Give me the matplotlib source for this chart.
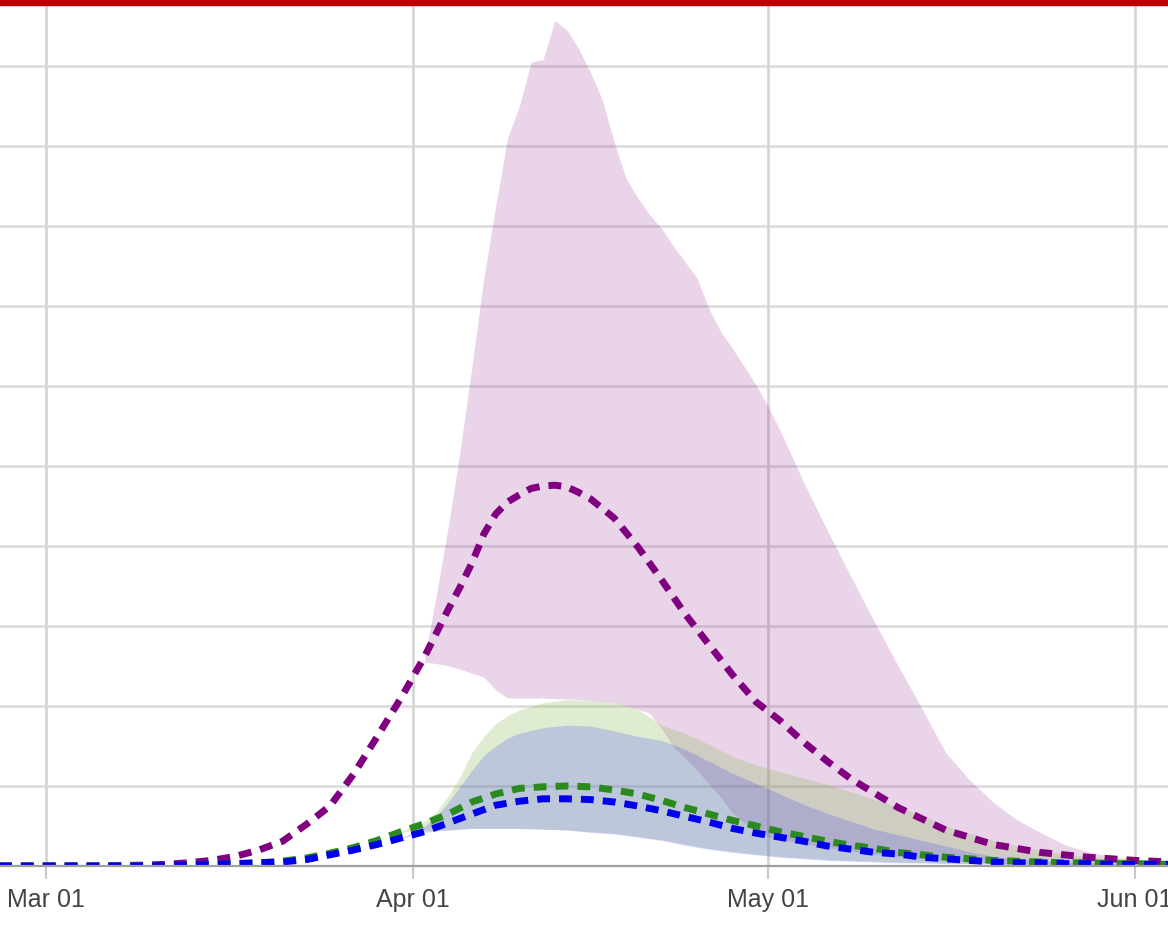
import numpy as np
import matplotlib
matplotlib.use("Agg")
import matplotlib.pyplot as plt
import matplotlib.dates as mdates
from matplotlib.patches import Rectangle

# ---------------- data (days since 2020-03-01) ----------------
start_date = np.datetime64("2020-03-01")

purple_days = [-4, 0, 4, 8, 10, 12, 14, 16, 18, 20, 22, 24, 26, 28, 30, 32, 34, 35,
               36, 37, 38, 39, 40, 41, 42, 43, 44, 45, 46, 48, 50, 52, 54, 56, 58,
               60, 62, 64, 66, 68, 70, 72, 74, 76, 78, 80, 82, 84, 86, 88, 90, 92, 95]
purple_mean = [0, 0, 0, 0.01, 0.02, 0.04, 0.07, 0.12, 0.20, 0.31, 0.52, 0.75, 1.15,
               1.62, 2.10, 2.62, 3.21, 3.49, 3.79, 4.15, 4.40, 4.55, 4.64, 4.72,
               4.75, 4.76, 4.74, 4.67, 4.59, 4.35, 3.99, 3.58, 3.15, 2.77, 2.39,
               2.05, 1.82, 1.55, 1.31, 1.09, 0.91, 0.73, 0.59, 0.45, 0.36, 0.27,
               0.22, 0.17, 0.14, 0.11, 0.09, 0.07, 0.05]

mean_days = [-4, 0, 4, 8, 10, 12, 14, 16, 18, 20, 22, 24, 26, 28, 30, 32, 34, 36,
             38, 40, 42, 44, 46, 48, 50, 52, 54, 56, 58, 60, 62, 64, 66, 68, 70,
             72, 74, 76, 78, 80, 82, 84, 86, 88, 90, 92, 95]
green_mean = [0, 0, 0, 0, 0.005, 0.01, 0.02, 0.03, 0.04, 0.06, 0.10, 0.16, 0.23,
              0.32, 0.43, 0.53, 0.65, 0.80, 0.90, 0.97, 0.99, 1.00, 0.99, 0.95,
              0.90, 0.82, 0.73, 0.65, 0.57, 0.50, 0.43, 0.37, 0.31, 0.26, 0.22,
              0.17, 0.14, 0.11, 0.09, 0.07, 0.06, 0.05, 0.04, 0.04, 0.03, 0.03, 0.02]
blue_mean = [0, 0, 0, 0, 0.005, 0.01, 0.02, 0.03, 0.04, 0.05, 0.08, 0.14, 0.20,
             0.27, 0.35, 0.43, 0.54, 0.65, 0.76, 0.81, 0.84, 0.84, 0.83, 0.80,
             0.75, 0.69, 0.62, 0.55, 0.47, 0.41, 0.36, 0.31, 0.25, 0.21, 0.17,
             0.15, 0.11, 0.09, 0.07, 0.05, 0.04, 0.04, 0.03, 0.03, 0.02, 0.02, 0.02]

purple_band_days = [32, 33, 34, 35, 36, 37, 38, 39, 40, 41, 42, 43, 44, 45, 46, 47,
                    48, 49, 50, 51, 52, 53, 54, 55, 56, 57, 58, 59, 60, 61, 62, 64,
                    66, 68, 70, 72, 74, 76, 78, 80, 82, 84, 86, 88, 90, 92, 95]
purple_upper = [2.6, 3.4, 4.25, 5.2, 6.25, 7.35, 8.25, 9.1, 9.5, 10.05, 10.08, 10.57,
                10.45, 10.22, 9.92, 9.58, 9.05, 8.6, 8.35, 8.14, 7.97, 7.75, 7.55,
                7.35, 6.97, 6.68, 6.47, 6.24, 6.01, 5.75, 5.45, 4.8, 4.2, 3.62, 3.05,
                2.5, 1.97, 1.42, 1.08, 0.8, 0.58, 0.42, 0.27, 0.18, 0.12, 0.08, 0.05]
purple_lower = [2.55, 2.53, 2.5, 2.46, 2.41, 2.36, 2.2, 2.1, 2.1, 2.1, 2.1, 2.09,
                2.09, 2.08, 2.07, 2.05, 2.04, 2.0, 1.96, 1.91, 1.72, 1.49, 1.35,
                1.2, 1.03, 0.86, 0.66, 0.54, 0.44, 0.36, 0.33, 0.28, 0.23, 0.19,
                0.15, 0.12, 0.09, 0.07, 0.05, 0.04, 0.03, 0.03, 0.02, 0.02, 0.02,
                0.01, 0.01]

gb_band_days = [30, 31, 32, 33, 34, 35, 36, 37, 38, 39, 40, 42, 44, 46, 48, 50, 52,
                54, 56, 58, 60, 62, 64, 66, 68, 70, 72, 74, 76, 78, 80, 82, 84, 86,
                88, 90, 92, 95]
green_upper = [0.43, 0.5, 0.56, 0.68, 0.88, 1.12, 1.42, 1.62, 1.78, 1.88, 1.95, 2.04,
               2.08, 2.07, 2.04, 1.96, 1.76, 1.66, 1.52, 1.37, 1.26, 1.18, 1.1, 1.02,
               0.93, 0.83, 0.74, 0.63, 0.5, 0.41, 0.32, 0.25, 0.2, 0.15, 0.12, 0.09,
               0.07, 0.05]
green_lower = [0.42, 0.44, 0.45, 0.45, 0.45, 0.46, 0.47, 0.47, 0.47, 0.47, 0.47, 0.46,
               0.45, 0.43, 0.41, 0.37, 0.33, 0.27, 0.22, 0.18, 0.15, 0.12, 0.1, 0.08,
               0.07, 0.06, 0.05, 0.04, 0.04, 0.03, 0.03, 0.02, 0.02, 0.02, 0.02, 0.01,
               0.01, 0.01]
blue_upper = [0.35, 0.42, 0.5, 0.62, 0.8, 1.0, 1.2, 1.38, 1.5, 1.6, 1.66, 1.73, 1.76,
              1.75, 1.69, 1.62, 1.57, 1.46, 1.31, 1.16, 1.03, 0.9, 0.77, 0.66, 0.56,
              0.46, 0.39, 0.32, 0.25, 0.18, 0.12, 0.09, 0.07, 0.05, 0.04, 0.03, 0.03,
              0.02]
blue_lower = [0.35, 0.38, 0.42, 0.44, 0.45, 0.46, 0.47, 0.47, 0.47, 0.47, 0.47, 0.46,
              0.45, 0.42, 0.40, 0.36, 0.32, 0.26, 0.21, 0.17, 0.14, 0.11, 0.09, 0.07,
              0.06, 0.05, 0.04, 0.04, 0.03, 0.03, 0.02, 0.02, 0.02, 0.01, 0.01, 0.01,
              0.01, 0.01]

month_ticks = ["2020-03-01", "2020-04-01", "2020-05-01", "2020-06-01"]
grid_values = [1, 2, 3, 4, 5, 6, 7, 8, 9, 10]


def to_dates(days):
    return start_date + np.array(days).astype("timedelta64[D]")


# ---------------- figure ----------------
plt.rcParams["font.family"] = ["Liberation Sans", "DejaVu Sans"]
W, H = 1168, 936
fig = plt.figure(figsize=(W / 100, H / 100), dpi=100)
ax = fig.add_axes([0, 1 - 866 / H, 1, (866 - 5) / H])

# red banner at top
fig.patches.append(Rectangle((0, 1 - 5 / H), 1, 5 / H, transform=fig.transFigure,
                             color="#c00000", zorder=10))

# grid
for v in grid_values:
    ax.axhline(v, color="#dedede", lw=2.0, zorder=0)
for t in month_ticks:
    ax.axvline(np.datetime64(t), color="#d6d6d6", lw=2.0, zorder=0)

# bands
ax.fill_between(to_dates(purple_band_days), purple_lower, purple_upper,
                color="#800080", alpha=0.17, lw=0, zorder=1)
ax.fill_between(to_dates(gb_band_days), green_lower, green_upper,
                color="#8fbc5a", alpha=0.28, lw=0, zorder=2)
ax.fill_between(to_dates(gb_band_days), blue_lower, blue_upper,
                color="#2020ff", alpha=0.18, lw=0, zorder=3)

# mean lines
dash = (0, (1.85, 1.3))
md = to_dates(mean_days)
ax.plot(to_dates(purple_days), purple_mean, color="#800080", lw=5, linestyle=dash,
        zorder=4, dash_capstyle="butt")
ax.plot(md, green_mean, color="#2a8a1e", lw=5, linestyle=dash, zorder=5,
        dash_capstyle="butt")
ax.plot(md, blue_mean, color="#0000ee", lw=5, linestyle=dash, zorder=6,
        dash_capstyle="butt")

# axes
x0 = start_date - np.timedelta64(93, "h")
x1 = np.datetime64("2020-06-01") + np.timedelta64(67, "h")
ax.set_xlim(x0, x1)
ax.set_ylim(0, (866 - 5) / 80)

for s in ["top", "left", "right"]:
    ax.spines[s].set_visible(False)
ax.spines["bottom"].set_color("#a0a0a0")
ax.spines["bottom"].set_linewidth(1.6)
ax.spines["bottom"].set_zorder(7)

ax.set_yticks([])
ax.set_xticks([np.datetime64(t) for t in month_ticks])
ax.xaxis.set_major_formatter(mdates.DateFormatter("%b %d"))
ax.tick_params(axis="x", length=9, width=1.5, color="#c8c8c8", pad=7,
               labelsize=18, labelcolor="#444444")

fig.savefig("out.png", dpi=100)
